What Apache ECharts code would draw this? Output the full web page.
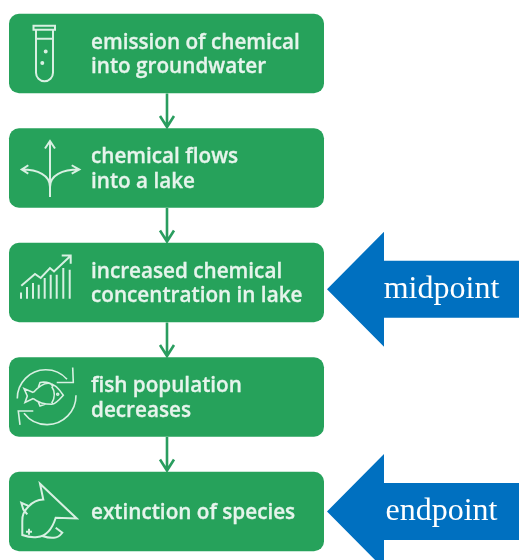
<!DOCTYPE html>
<html>
<head>
<meta charset="utf-8">
<style>
  html, body { margin: 0; padding: 0; background: #fff; }
  #chart { width: 519px; height: 560px; }
</style>
</head>
<body>
<div id="chart"></div>
<script src="https://cdn.jsdelivr.net/npm/echarts@6/dist/echarts.min.js"></script>
<script>
// the five steps of the impact chain, top to bottom
const stepRows = [0, 1, 2, 3, 4];
const stepLabels = [
  'emission of chemical\ninto groundwater',
  'chemical flows\ninto a lake',
  'increased chemical\nconcentration in lake',
  'fish population\ndecreases',
  'extinction of species'
];
// blue side arrows, row position
const markerRows = [2.06, 4];
const markerLabels = ['midpoint', 'endpoint'];

const GREEN = '#26a25b';
const LINE_GREEN = '#2a9d5f';
const BLUE = '#0070c0';
const TEXT_LIGHT = '#e6f4ec';
const ICON_LIGHT = '#d8f0e2';

// icon outlines, relative to the top left corner of a box
const stepIcons = [
  // test tube
  'M24.5 12H46V16H24.5Z M27 16V59A8.5 8.5 0 0 0 44 59V16 M27 25H44 ' +
    'M37.7 37.7A1 1 0 1 0 35.7 37.7A1 1 0 1 0 37.7 37.7Z M34.3 49.3A1 1 0 1 0 32.3 49.3A1 1 0 1 0 34.3 49.3Z',
  // three way arrows
  'M41 68.7V12.7 M36 20.3L41 12.7L46 20.3 ' +
    'M41 58.7C41 47 29 41.3 12.7 41.3 M19.3 37L12.7 41.3L19.3 45.3 ' +
    'M41 58.7C41 47 53 41.3 70.3 41.3 M62.7 37L70.3 41.3L62.7 45.3',
  // rising bars
  'M12 56V49.7 M18 56V44.3 M24 56V40.3 M29.7 56V42 M35.7 56V35.3 M41.7 56V32 M47.7 56V32 M54.3 56V25.3 M60.7 56V27 ' +
    'M12.3 43L26 31.3L31.7 35.3L41 25.3L45 28.7L61.7 13 M52.7 12.7H61.7V21',
  // fish in a cycle
  'M8.3 41.3A28.5 28.5 0 0 1 58 22 M47.7 25.3H64.3L63.7 10.3 ' +
    'M67 38A29 29 0 0 1 15 56 M24.3 53.7H9.3L11 67.7 ' +
    'M24.3 35.3C29 30 34 26 39.3 26C46 26 51 33 54.3 38C50 43 46 47 42.7 47C36 47 29 45 24.3 41.3 ' +
    'M24.3 35.3L15 31.3L18.3 38.7L16 45.3L24.3 41.3 ' +
    'M29.3 30.3L31 25.3C34 24.5 38 25 41 26L44.3 29.3 M29.3 44.7L31 48.7L36 47 ' +
    'M42.7 29.3Q48 37 42.7 46 M49.7 37A1 1 0 1 0 47.7 37A1 1 0 1 0 49.7 37Z',
  // dead fish
  'M31 12L34.3 27.7C28 28 23 31 20 34.3C15 39 13 44 13.3 49.3L13.3 63.3C18 65 23 66 28.3 65.3C36 64.5 43 58 46.7 46L67.7 46.7Z ' +
    'M20 34.3L12.3 31L14.3 37.7L18.3 42.7 ' +
    'M46.7 56L53.3 61C51 64 48 66 45 66C41 66.5 37 65.5 33.3 64.3 ' +
    'M17 60H23 M20 57V63'
];

const chart = echarts.init(document.getElementById('chart'), null, { renderer: 'canvas' });

const renderStep = (params, api) => {
  const row = api.value(1);
  const [, cy] = api.coord([0, row]);
  const left = api.coord([9, row])[0];
  const right = api.coord([324, row])[0];
  const top = cy - 39.75;
  const height = 79.5;
  return {
    type: 'group',
    children: [
      {
        type: 'rect',
        shape: { x: left, y: top, width: right - left, height, r: 10 },
        style: { fill: GREEN }
      },
      {
        type: 'path',
        x: left,
        y: top,
        shape: { pathData: stepIcons[row] },
        // the fish icon is the busiest one, a thinner line keeps it readable
        style: { fill: 'none', stroke: ICON_LIGHT, lineWidth: row === 3 ? 1.6 : 2 }
      },
      {
        type: 'text',
        x: api.coord([91, row])[0],
        y: cy + 1.5,
        style: {
          text: stepLabels[row],
          fill: TEXT_LIGHT,
          stroke: TEXT_LIGHT,
          lineWidth: 0.3,
          fontFamily: '"Open Sans"',
          fontWeight: 600,
          fontSize: 20.7,
          lineHeight: 24.5,
          align: 'left',
          verticalAlign: 'middle'
        }
      }
    ]
  };
};

// small arrow between a box and the one under it
const renderLink = (params, api) => {
  const row = api.value(1);
  const x = api.coord([167, row])[0];
  const from = api.coord([167, row])[1] + 40;
  const to = api.coord([167, row + 1])[1] - 41;
  return {
    type: 'path',
    shape: {
      pathData: `M${x} ${from}V${to} M${x - 7} ${to - 11}L${x} ${to}L${x + 7} ${to - 11}`
    },
    style: { fill: 'none', stroke: LINE_GREEN, lineWidth: 2.6 }
  };
};

const renderMarker = (params, api) => {
  const i = params.dataIndex;
  const row = api.value(1);
  const [tip, cy] = api.coord([327, row]);
  const neck = api.coord([384, row])[0];
  const end = api.coord([519, row])[0];
  return {
    type: 'group',
    children: [
      {
        type: 'polygon',
        shape: {
          points: [
            [tip, cy],
            [neck, cy - 57.5],
            [neck, cy - 28.5],
            [end, cy - 28.5],
            [end, cy + 28.5],
            [neck, cy + 28.5],
            [neck, cy + 57.5]
          ]
        },
        style: { fill: BLUE }
      },
      {
        type: 'text',
        x: api.coord([441.5, row])[0],
        y: cy + 0.5,
        style: {
          text: markerLabels[i],
          fill: '#ffffff',
          fontFamily: '"Liberation Serif"',
          fontSize: 32,
          align: 'center',
          verticalAlign: 'middle'
        }
      }
    ]
  };
};

const option = {
  backgroundColor: '#ffffff',
  animation: false,
  grid: { left: 0, right: 0, top: 0, bottom: 0 },
  // x in pixels, y in box rows (row pitch 114.5px, first row centre at 53.5px)
  xAxis: { type: 'value', min: 0, max: 519, show: false },
  yAxis: { type: 'value', inverse: true, min: -53.5 / 114.5, max: (560 - 53.5) / 114.5, show: false },
  series: [
    {
      type: 'custom',
      name: 'links',
      silent: true,
      renderItem: renderLink,
      data: stepRows.slice(0, -1).map((r) => [0, r])
    },
    {
      type: 'custom',
      name: 'steps',
      silent: true,
      renderItem: renderStep,
      data: stepRows.map((r) => [0, r])
    },
    {
      type: 'custom',
      name: 'markers',
      silent: true,
      renderItem: renderMarker,
      data: markerRows.map((r) => [0, r])
    }
  ]
};

chart.setOption(option);
window.addEventListener('resize', () => chart.resize());
</script>
</body>
</html>
